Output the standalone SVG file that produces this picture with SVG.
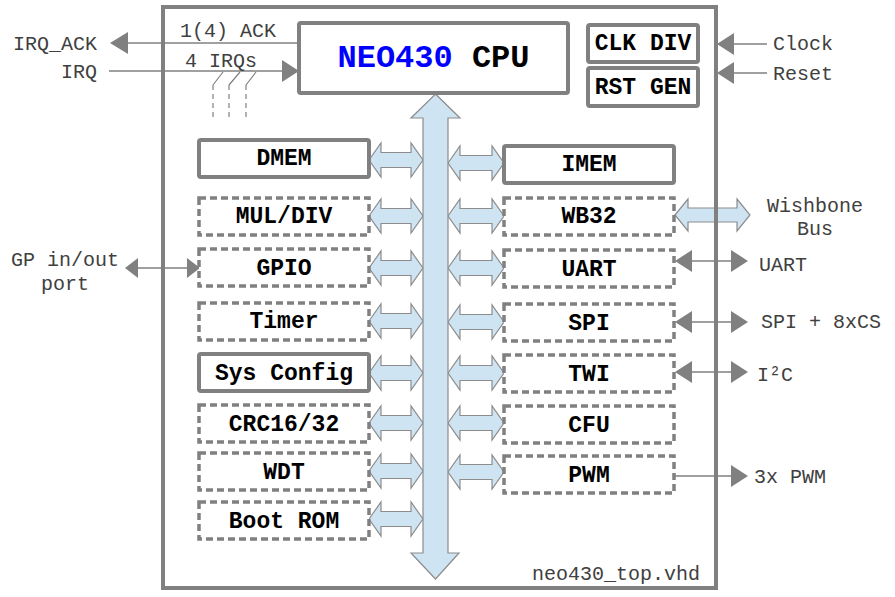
<svg xmlns="http://www.w3.org/2000/svg" xmlns:xlink="http://www.w3.org/1999/xlink" width="895" height="597" viewBox="0 0 895 597">
<style>
.frame{fill:none;stroke:#808080;stroke-width:4}
.box{fill:#fff;stroke:#808080;stroke-width:4}
.dbox{fill:#fff;stroke:#808080;stroke-width:3.5;stroke-dasharray:7,4}
.lbl{font-family:"Liberation Mono","Courier New",monospace;font-weight:bold;font-size:23px;fill:#000;text-anchor:middle}
.ext{font-family:"Liberation Mono","Courier New",monospace;font-size:20px;fill:#404040}
.wire{stroke:#808080;stroke-width:1.5;fill:none}
.dwire{stroke:#808080;stroke-width:1.2;fill:none;stroke-dasharray:5,4}
.head{fill:#808080}
.bus{fill:#cfe4f3;stroke:#8c8c8c;stroke-width:1.2}
</style>
<defs>
<polygon id="bl" class="bus" points="369,0 381,-17 381,-7.5 411,-7.5 411,-17 423,0 411,17 411,7.5 381,7.5 381,17"/>
<polygon id="br" class="bus" points="448,0 460,-17 460,-7.5 492,-7.5 492,-17 504,0 492,17 492,7.5 460,7.5 460,17"/>
</defs>
<rect x="0" y="0" width="895" height="597" fill="#fff"/>
<g id="connectors">
<use xlink:href="#bl" href="#bl" transform="translate(0,160)"/>
<use xlink:href="#bl" href="#bl" transform="translate(0,216)"/>
<use xlink:href="#bl" href="#bl" transform="translate(0,268)"/>
<use xlink:href="#bl" href="#bl" transform="translate(0,321)"/>
<use xlink:href="#bl" href="#bl" transform="translate(0,373)"/>
<use xlink:href="#bl" href="#bl" transform="translate(0,423)"/>
<use xlink:href="#bl" href="#bl" transform="translate(0,471)"/>
<use xlink:href="#bl" href="#bl" transform="translate(0,519)"/>
<use xlink:href="#br" href="#br" transform="translate(0,163)"/>
<use xlink:href="#br" href="#br" transform="translate(0,216)"/>
<use xlink:href="#br" href="#br" transform="translate(0,268)"/>
<use xlink:href="#br" href="#br" transform="translate(0,322)"/>
<use xlink:href="#br" href="#br" transform="translate(0,373)"/>
<use xlink:href="#br" href="#br" transform="translate(0,423)"/>
<use xlink:href="#br" href="#br" transform="translate(0,472)"/>
<polygon class="bus" points="435.5,94 460,118 448,118 448,553 459,553 435.5,579 411,553 423,553 423,118 411,118"/>
<polygon class="bus" points="675,215 688,199 688,208 737,208 737,199 750,215 737,231 737,222 688,222 688,231"/>
<line class="wire" x1="128" y1="43" x2="299" y2="43"/>
<polygon class="head" points="110,43 128,32 128,54"/>
<line class="wire" x1="109" y1="71" x2="282" y2="71"/>
<polygon class="head" points="299,71 282,60 282,82"/>
<path class="wire" style="stroke-width:1.2" d="M223,72 L213,85 M240,72 L229,85 M256,72 L246,85"/>
<path class="dwire" d="M213,85 V120 M229,85 V120 M246,85 V120"/>
<line class="wire" x1="734" y1="44" x2="767" y2="44"/>
<polygon class="head" points="717,44 734,33 734,55"/>
<line class="wire" x1="734" y1="73" x2="767" y2="73"/>
<polygon class="head" points="717,73 734,62 734,84"/>
<line class="wire" x1="138" y1="268" x2="187" y2="268"/>
<polygon class="head" points="125,268 138,258 138,278"/>
<polygon class="head" points="200,268 187,258 187,278"/>
<line class="wire" x1="692" y1="261" x2="731" y2="261"/>
<polygon class="head" points="675,261 692,250 692,272"/>
<polygon class="head" points="748,261 731,250 731,272"/>
<line class="wire" x1="692" y1="322" x2="731" y2="322"/>
<polygon class="head" points="675,322 692,311 692,333"/>
<polygon class="head" points="748,322 731,311 731,333"/>
<line class="wire" x1="692" y1="372" x2="731" y2="372"/>
<polygon class="head" points="675,372 692,361 692,383"/>
<polygon class="head" points="748,372 731,361 731,383"/>
<line class="wire" x1="674" y1="476" x2="731" y2="476"/>
<polygon class="head" points="748,476 731,465 731,487"/>
</g>
<g id="frame">
<rect class="frame" x="163" y="7" width="553" height="581"/>
<text class="ext" x="700" y="580" text-anchor="end">neo430_top.vhd</text>
</g>
<g id="labels">
<text class="ext" x="97" y="50" text-anchor="end">IRQ_ACK</text>
<text class="ext" x="180" y="37">1(4) ACK</text>
<text class="ext" x="97" y="78" text-anchor="end">IRQ</text>
<text class="ext" x="185" y="67">4 IRQs</text>
<text class="ext" x="773" y="50">Clock</text>
<text class="ext" x="773" y="80">Reset</text>
<text class="ext" x="65" y="266" text-anchor="middle">GP in/out</text>
<text class="ext" x="65" y="290" text-anchor="middle">port</text>
<text class="ext" x="815" y="212" text-anchor="middle">Wishbone</text>
<text class="ext" x="815" y="235" text-anchor="middle">Bus</text>
<text class="ext" x="759" y="271">UART</text>
<text class="ext" x="761" y="328">SPI + 8xCS</text>
<text class="ext" x="757" y="381">I²C</text>
<text class="ext" x="754" y="483">3x PWM</text>
</g>
<g id="cpu">
<rect class="box" x="299" y="23" width="269" height="70" rx="2"/>
<text class="lbl" x="433.5" y="67" style="font-size:32px"><tspan fill="#0000ff">NEO430</tspan> CPU</text>
</g>
<g id="clkdiv">
<rect class="box" x="588" y="25" width="110" height="37" rx="2"/>
<text class="lbl" x="643" y="50">CLK DIV</text>
</g>
<g id="rstgen">
<rect class="box" x="588" y="68" width="110" height="38" rx="2"/>
<text class="lbl" x="643" y="94">RST GEN</text>
</g>
<g id="dmem"><rect class="box" x="199" y="140" width="170" height="37" rx="2"/><text class="lbl" x="284" y="165">DMEM</text></g>
<g id="muldiv"><rect class="dbox" x="199" y="198" width="170" height="37"/><text class="lbl" x="284" y="223">MUL/DIV</text></g>
<g id="gpio"><rect class="dbox" x="199" y="249" width="170" height="37"/><text class="lbl" x="284" y="275">GPIO</text></g>
<g id="timer"><rect class="dbox" x="199" y="303" width="170" height="37"/><text class="lbl" x="284" y="328">Timer</text></g>
<g id="sysconfig"><rect class="box" x="199" y="354" width="170" height="37" rx="2"/><text class="lbl" x="284" y="380">Sys Config</text></g>
<g id="crc"><rect class="dbox" x="199" y="405" width="170" height="37"/><text class="lbl" x="284" y="431">CRC16/32</text></g>
<g id="wdt"><rect class="dbox" x="199" y="453" width="170" height="37"/><text class="lbl" x="284" y="479">WDT</text></g>
<g id="bootrom"><rect class="dbox" x="199" y="502" width="170" height="37"/><text class="lbl" x="284" y="528">Boot ROM</text></g>
<g id="imem"><rect class="box" x="504" y="146" width="170" height="37" rx="2"/><text class="lbl" x="589" y="171">IMEM</text></g>
<g id="wb32"><rect class="dbox" x="504" y="198" width="170" height="37"/><text class="lbl" x="589" y="223">WB32</text></g>
<g id="uart"><rect class="dbox" x="504" y="250" width="170" height="37"/><text class="lbl" x="589" y="276">UART</text></g>
<g id="spi"><rect class="dbox" x="504" y="304" width="170" height="37"/><text class="lbl" x="589" y="330">SPI</text></g>
<g id="twi"><rect class="dbox" x="504" y="355" width="170" height="37"/><text class="lbl" x="589" y="381">TWI</text></g>
<g id="cfu"><rect class="dbox" x="504" y="406" width="170" height="37"/><text class="lbl" x="589" y="432">CFU</text></g>
<g id="pwm"><rect class="dbox" x="504" y="456" width="170" height="37"/><text class="lbl" x="589" y="482">PWM</text></g>
</svg>
